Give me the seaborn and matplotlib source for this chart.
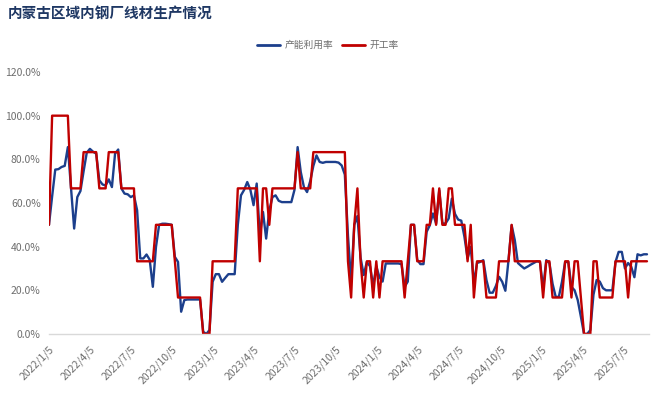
import numpy as np
import pandas as pd
import matplotlib
matplotlib.use("Agg")
import matplotlib.pyplot as plt
from matplotlib.lines import Line2D
from matplotlib.ticker import FuncFormatter
import seaborn as sns

title = "内蒙古区域内钢厂线材生产情况"
series_names = ["产能利用率", "开工率"]
start_date = "2022-01-05"

# 产能利用率 (%), weekly
util = [
    50, 63, 75.3, 75.5, 76.5, 77, 85.6, 67, 48.3, 62.7,
    65.5, 74.5, 83, 84.8, 83.5, 82.6, 70.4, 68.5, 68, 70.8,
    67.3, 82.6, 84.5, 66.7, 64.3, 64, 62.7, 63.5, 56.7, 34.6,
    34.6, 36.4, 34, 21.6, 39.9, 50, 50.5, 50.5, 50.3, 50,
    35.3, 33, 10.2, 15.5, 15.8, 15.8, 15.8, 15.8, 15.8, 1,
    0, 1.8, 23.9, 27.4, 27.4, 23.9, 25.7, 27.4, 27.4, 27.4,
    50, 63.5, 66, 69.6, 66, 59, 68.9, 45, 55.9, 43.7,
    56.6, 62.7, 63.5, 61, 60.4, 60.4, 60.4, 60.4, 66, 85.6,
    74.2, 67.3, 65, 70, 77, 81.8, 78.8, 78.4, 78.8, 78.8,
    78.8, 78.8, 78.5, 77.2, 73, 45, 24, 50, 54, 35,
    27, 33, 31, 22, 31, 26, 24, 32.3, 32.3, 32.3,
    32.3, 32.3, 32, 21.6, 24, 50, 50, 34, 32, 32,
    46.8, 49.8, 55.2, 50.6, 65.8, 50.6, 50.6, 52.9, 62, 55,
    52.4, 51.9, 44.5, 34.6, 39.9, 23.2, 32.5, 33, 33.8, 24.7,
    18.9, 18.9, 22, 26.2, 23.9, 19.8, 33.8, 49.8, 43, 32.5,
    31.2, 30, 30.8, 31.7, 32.5, 33.3, 33, 20.9, 33.8, 32.5,
    23, 17, 17, 24, 33, 33, 21.6, 20, 15.5, 7.9,
    0, 0, 1.8, 18, 24.7, 24, 21, 20, 20, 20,
    33, 37.6, 37.6, 30, 32.5, 30.8, 26, 36.5, 36, 36.5,
    36.5,
]

# 开工率 (%), weekly
rate = [
    50, 100, 100, 100, 100, 100, 100, 66.7, 66.7, 66.7,
    66.7, 83.3, 83.3, 83.3, 83.3, 83.3, 66.7, 66.7, 66.7, 83.3,
    83.3, 83.3, 83.3, 66.7, 66.7, 66.7, 66.7, 66.7, 33.3, 33.3,
    33.3, 33.3, 33.3, 33.3, 50, 50, 50, 50, 50, 50,
    33.3, 16.7, 16.7, 16.7, 16.7, 16.7, 16.7, 16.7, 16.7, 0,
    0, 0, 33.3, 33.3, 33.3, 33.3, 33.3, 33.3, 33.3, 33.3,
    66.7, 66.7, 66.7, 66.7, 66.7, 66.7, 66.7, 33.3, 66.7, 66.7,
    50, 66.7, 66.7, 66.7, 66.7, 66.7, 66.7, 66.7, 66.7, 83.3,
    66.7, 66.7, 66.7, 66.7, 83.3, 83.3, 83.3, 83.3, 83.3, 83.3,
    83.3, 83.3, 83.3, 83.3, 83.3, 33.3, 16.7, 50, 66.7, 33.3,
    16.7, 33.3, 33.3, 16.7, 33.3, 16.7, 33.3, 33.3, 33.3, 33.3,
    33.3, 33.3, 33.3, 16.7, 33.3, 50, 50, 33.3, 33.3, 33.3,
    50, 50, 66.7, 50, 66.7, 50, 50, 66.7, 66.7, 50,
    50, 50, 50, 33.3, 50, 16.7, 33.3, 33.3, 33.3, 16.7,
    16.7, 16.7, 16.7, 33.3, 33.3, 33.3, 33.3, 50, 33.3, 33.3,
    33.3, 33.3, 33.3, 33.3, 33.3, 33.3, 33.3, 16.7, 33.3, 33.3,
    16.7, 16.7, 16.7, 16.7, 33.3, 33.3, 16.7, 33.3, 33.3, 16.7,
    0, 0, 0, 33.3, 33.3, 16.7, 16.7, 16.7, 16.7, 16.7,
    33.3, 33.3, 33.3, 33.3, 16.7, 33.3, 33.3, 33.3, 33.3, 33.3,
    33.3,
]

tick_labels = [
    "2022/1/5", "2022/4/5", "2022/7/5", "2022/10/5",
    "2023/1/5", "2023/4/5", "2023/7/5", "2023/10/5",
    "2024/1/5", "2024/4/5", "2024/7/5", "2024/10/5",
    "2025/1/5", "2025/4/5", "2025/7/5",
]
y_ticks = [0, 20, 40, 60, 80, 100, 120]

colors = {"产能利用率": "#1C3F8C", "开工率": "#C00000"}

dates = pd.date_range(start_date, periods=len(util), freq="7D")
df = pd.DataFrame({
    "date": list(dates) + list(dates),
    "value": util + rate,
    "series": [series_names[0]] * len(util) + [series_names[1]] * len(rate),
})

sns.set_style("white")
plt.rcParams["font.family"] = ["Noto Sans CJK SC", "DejaVu Sans"]

fig = plt.figure(figsize=(6.6, 3.99), dpi=100)
ax = fig.add_axes([0.0742, 0.163, 0.9088, 0.6565])

sns.lineplot(data=df, x="date", y="value", hue="series", hue_order=series_names,
             palette=colors, linewidth=1.7, ax=ax, legend=False)

ax.set_ylim(0, 120)
ax.set_yticks(y_ticks)
ax.yaxis.set_major_formatter(FuncFormatter(lambda v, p: f"{v:.1f}%"))
tick_dates = pd.to_datetime(tick_labels, format="%Y/%m/%d")
ax.set_xticks(tick_dates)
ax.set_xticklabels(tick_labels, rotation=45, ha="right", rotation_mode="anchor")
ax.set_xlim(dates[0], dates[-1] + pd.Timedelta(days=4))

ax.set_xlabel("")
ax.set_ylabel("")
for s in ["top", "right", "left"]:
    ax.spines[s].set_visible(False)
ax.spines["bottom"].set_color("#D9D9D9")
ax.spines["bottom"].set_linewidth(1.0)
ax.tick_params(axis="x", colors="#6E6E6E", labelsize=7.5, length=4, width=0.8,
               color="#D9D9D9", pad=3)
ax.tick_params(axis="y", colors="#6E6E6E", labelsize=7.5, length=0, pad=6)
ax.grid(False)

fig.text(0.012, 0.985, title, fontsize=10.5, fontweight="bold", color="#1F3864",
         va="top", ha="left")

handles = [Line2D([0], [0], color=colors[n], lw=2) for n in series_names]
fig.legend(handles, series_names, loc="center", bbox_to_anchor=(0.497, 0.887),
           ncol=2, frameon=False, fontsize=7, handlelength=2.4, columnspacing=0.8,
           handletextpad=0.5, labelcolor="#6E6E6E")

fig.savefig("out.png", dpi=100)
